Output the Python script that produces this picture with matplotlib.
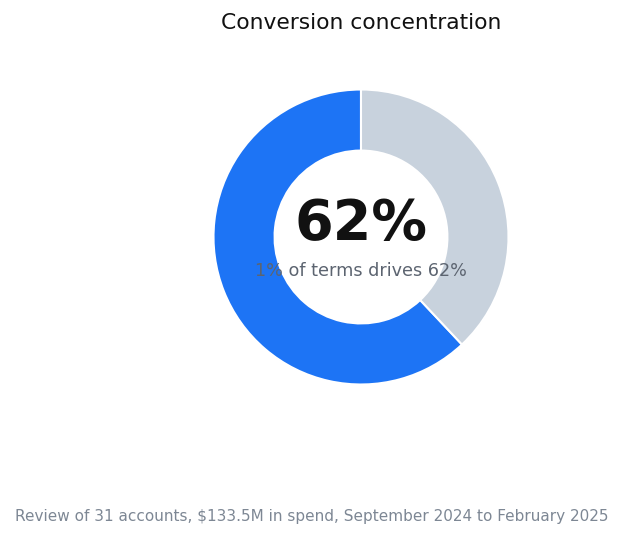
import matplotlib
matplotlib.use("Agg")
import matplotlib.pyplot as plt

segments = ["Top 1% of terms", "Other terms"]
shares = [62, 38]
colors = ["#1d74f5", "#c8d2dd"]
headline = "62%"
subline = "1% of terms drives 62%"
title = "Conversion concentration"
footnote = "Review of 31 accounts, $133.5M in spend, September 2024 to February 2025"

W, H = 624, 541
fig = plt.figure(figsize=(W / 100, H / 100), dpi=100)

# donut centred at (361, 237) px, outer radius ~147.5 px
cx, cy, r = 361, 237, 147.5
ax = fig.add_axes([(cx - r) / W, (H - cy - r) / H, 2 * r / W, 2 * r / H])
ax.pie(shares, colors=colors, startangle=90, counterclock=True,
       radius=1.0, wedgeprops=dict(width=0.414, edgecolor="white", linewidth=1.5))
ax.set_xlim(-1, 1)
ax.set_ylim(-1, 1)
ax.axis("off")

fig.text(cx / W, 1 - 224 / H, headline, ha="center", va="center",
         fontsize=40, fontweight="bold", color="#111111")
fig.text(cx / W, 1 - 271 / H, subline, ha="center", va="center",
         fontsize=12.7, color="#5c6470")
fig.text(361 / W, 1 - 23 / H, title, ha="center", va="center",
         fontsize=15.7, color="#111111")
fig.text(312 / W, 1 - 517 / H, footnote, ha="center", va="center",
         fontsize=10.95, color="#7d8794")

fig.savefig("out.png", dpi=100)
